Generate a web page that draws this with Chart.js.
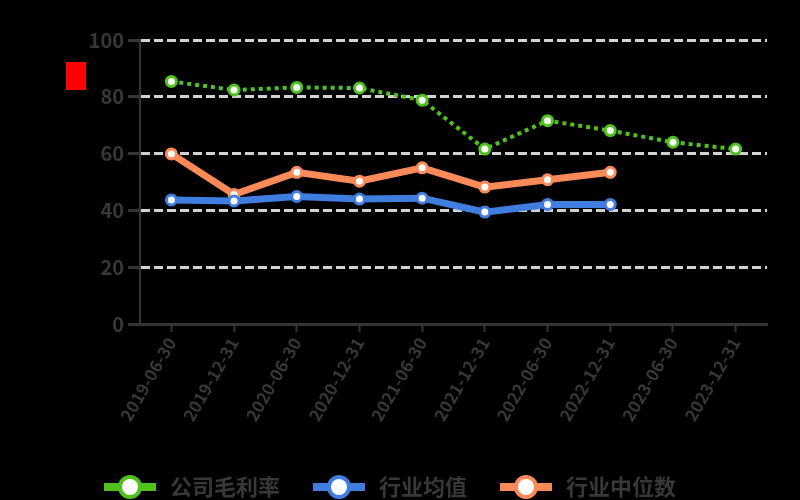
<!DOCTYPE html>
<html>
<head>
<meta charset="utf-8">
<script src="https://cdn.jsdelivr.net/npm/chart.js@4"></script>
<style>
  html, body { margin: 0; padding: 0; background: #000; }
  #wrap { width: 800px; height: 500px; }
</style>
</head>
<body>
<div id="wrap"><canvas id="chart"></canvas></div>
<script>
const periods = ['2019-06-30', '2019-12-31', '2020-06-30', '2020-12-31', '2021-06-30',
    '2021-12-31', '2022-06-30', '2022-12-31', '2023-06-30', '2023-12-31'];
const companyMargin = [85.4, 82.4, 83.3, 83.1, 78.8, 61.6, 71.6, 68.1, 64.0, 61.6];
const industryMean = [43.7, 43.3, 44.9, 44.0, 44.3, 39.4, 42.1, 42.1, null, null];
const industryMedian = [59.9, 45.6, 53.4, 50.3, 55.0, 48.2, 50.8, 53.4, null, null];
const seriesNames = ['公司毛利率', '行业均值', '行业中位数'];
const yTicks = [0, 20, 40, 60, 80, 100];

const palette = {
    green: '#4fc21e',
    blue: '#3f7ddf',
    orange: '#fb8a58',
    grid: '#d2d2d2',
    axis: '#343434',
    text: '#383838',
};

function legendIcon(color) {
    const c = document.createElement('canvas');
    c.width = 52;
    c.height = 28;
    const ctx = c.getContext('2d');
    ctx.fillStyle = color;
    ctx.fillRect(0, 10, 52, 8);
    ctx.beginPath();
    ctx.arc(26, 14, 12, 0, Math.PI * 2);
    ctx.fill();
    ctx.fillStyle = '#fff';
    ctx.beginPath();
    ctx.arc(26, 14, 8, 0, Math.PI * 2);
    ctx.fill();
    return c;
}

const unitMark = {
    id: 'unitMark',
    afterDraw(chart) {
        const ctx = chart.ctx;
        ctx.save();
        ctx.fillStyle = '#ff0000';
        ctx.fillRect(66, 62, 20, 28);
        ctx.restore();
    },
};

function lineDataset(label, values, color, width, dash) {
    return {
        label: label,
        data: values,
        borderColor: color,
        backgroundColor: color,
        borderWidth: width,
        borderDash: dash,
        pointRadius: 5,
        pointBorderWidth: 3,
        pointBackgroundColor: '#fff',
        pointBorderColor: color,
        tension: 0,
        spanGaps: false,
        icon: legendIcon(color),
    };
}

new Chart(document.getElementById('chart'), {
    type: 'line',
    data: {
        labels: periods,
        datasets: [
            lineDataset(seriesNames[0], companyMargin, palette.green, 4, [4, 4]),
            lineDataset(seriesNames[1], industryMean, palette.blue, 7, []),
            lineDataset(seriesNames[2], industryMedian, palette.orange, 7, []),
        ],
    },
    options: {
        responsive: true,
        maintainAspectRatio: false,
        animation: false,
        layout: { padding: { top: 40, right: 33, left: 10, bottom: -8 } },
        plugins: {
            tooltip: { enabled: false },
            legend: {
                position: 'bottom',
                labels: {
                    color: palette.text,
                    font: { family: 'Noto Sans CJK SC', size: 22, weight: 'bold' },
                    usePointStyle: true,
                    pointStyleWidth: 58,
                    boxHeight: 22,
                    padding: 30,
                    generateLabels(chart) {
                        return chart.data.datasets.map((ds, i) => ({
                            text: ds.label,
                            fillStyle: ds.borderColor,
                            strokeStyle: ds.borderColor,
                            lineWidth: 0,
                            pointStyle: ds.icon,
                            fontColor: palette.text,
                            datasetIndex: i,
                            hidden: false,
                        }));
                    },
                },
            },
        },
        scales: {
            x: {
                offset: true,
                afterFit(scale) { scale.height = 122; },
                border: { color: palette.axis, width: 3 },
                grid: {
                    drawOnChartArea: false,
                    drawTicks: true,
                    tickLength: 8,
                    tickColor: palette.axis,
                    tickWidth: 2,
                },
                ticks: {
                    color: palette.text,
                    font: { family: 'Noto Sans CJK SC', size: 17, weight: 'bold' },
                    minRotation: 60,
                    maxRotation: 60,
                    padding: 2,
                },
            },
            y: {
                min: 0,
                max: 100,
                afterFit(scale) { scale.width = 130; },
                afterBuildTicks(scale) { scale.ticks = yTicks.map(v => ({ value: v })); },
                border: { color: palette.axis, width: 2, dash: [9, 4] },
                grid: {
                    color: palette.grid,
                    lineWidth: 3,
                    tickColor: palette.axis,
                    tickLength: 12,
                    tickWidth: 3,
                    tickBorderDash: [],
                },
                ticks: {
                    color: palette.text,
                    font: { family: 'Noto Sans CJK SC', size: 20, weight: 'bold' },
                    padding: 4,
                },
            },
        },
    },
    plugins: [unitMark],
});
</script>
</body>
</html>
